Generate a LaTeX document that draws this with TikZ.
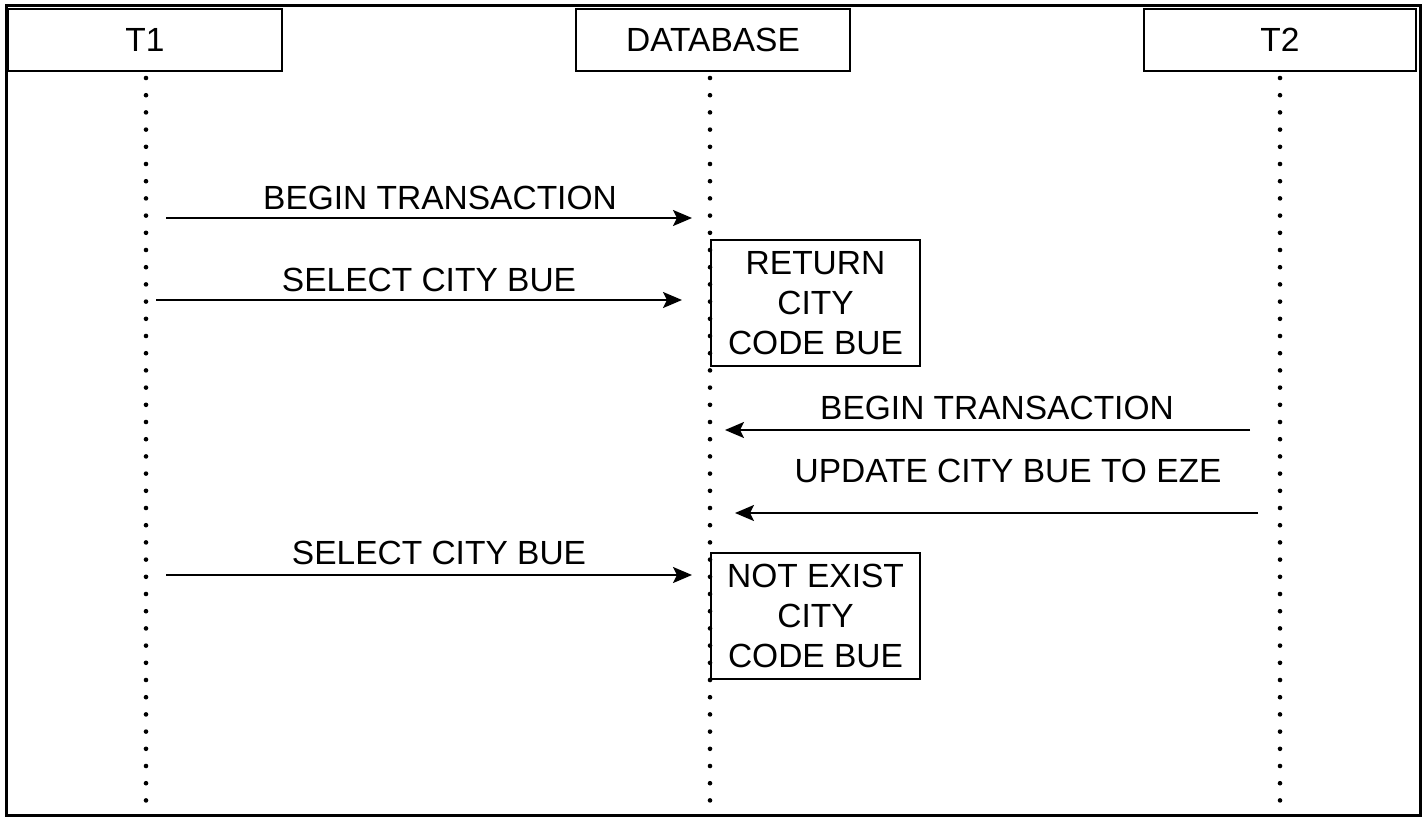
\documentclass[tikz,border=0pt]{standalone}
\usepackage{fontspec}
\setmainfont{Liberation Sans}
\usetikzlibrary{arrows.meta}
\begin{document}
\begin{tikzpicture}[x=1pt,y=-1pt,
  every node/.style={font=\fontsize{33.5}{40}\selectfont, inner sep=0pt},
  head/.style={draw=black, line width=2pt, minimum width=#1, minimum height=62pt, anchor=center},
  lifeline/.style={line width=4.6pt, line cap=round, dash pattern=on 0pt off 17.2pt},
  msg/.style={line width=2.2pt, -{Stealth[length=19pt,width=16pt,inset=4pt]}},
  note/.style={draw=black, line width=2pt, minimum width=209pt, minimum height=126pt, align=center},
  lbl/.style={anchor=base}]
\useasboundingbox (0,0) rectangle (1427,822);
\fill[white] (0,0) rectangle (1427,822);
\draw[line width=3pt] (6.5,5.5) rectangle (1420.5,815.5);
% heads
\node[head=274pt] (t1) at (145,40) {T1};
\node[head=274pt] (db) at (713,40) {DATABASE};
\node[head=272pt] (t2) at (1280,40) {T2};
% lifeline ends
\coordinate (t1e) at (146,802);
\coordinate (dbe) at (710,807);
\coordinate (t2e) at (1280,807);
\draw[lifeline] (t1.south -| t1e) ++(0,6) -- (t1e);
\draw[lifeline] (db.south -| dbe) ++(0,6) -- (dbe);
\draw[lifeline] (t2.south -| t2e) ++(0,6) -- (t2e);
% notes
\node[note] (n1) at (815.5,303) {RETURN\\CITY\\CODE BUE};
\node[note] (n2) at (815.5,616) {NOT EXIST\\CITY\\CODE BUE};
% arrow end points
\coordinate (a1s) at (166,218); \coordinate (a1e) at (692,218);
\coordinate (a2s) at (156,300); \coordinate (a2e) at (682,300);
\coordinate (a3s) at (1250,430); \coordinate (a3e) at (725,430);
\coordinate (a4s) at (1258,513); \coordinate (a4e) at (735,513);
\coordinate (a5s) at (166,575); \coordinate (a5e) at (692,575);
\draw[msg] (a1s) -- (a1e);
\draw[msg] (a2s) -- (a2e);
\draw[msg] (a3s) -- (a3e);
\draw[msg] (a4s) -- (a4e);
\draw[msg] (a5s) -- (a5e);
% labels
\node[lbl] (l1) at (440,209) {BEGIN TRANSACTION};
\node[lbl] (l2) at (429,291) {SELECT CITY BUE};
\node[lbl] (l3) at (997,419) {BEGIN TRANSACTION};
\node[lbl] (l4) at (1008,482) {UPDATE CITY BUE TO EZE};
\node[lbl] (l5) at (439,564) {SELECT CITY BUE};
\end{tikzpicture}
\end{document}
